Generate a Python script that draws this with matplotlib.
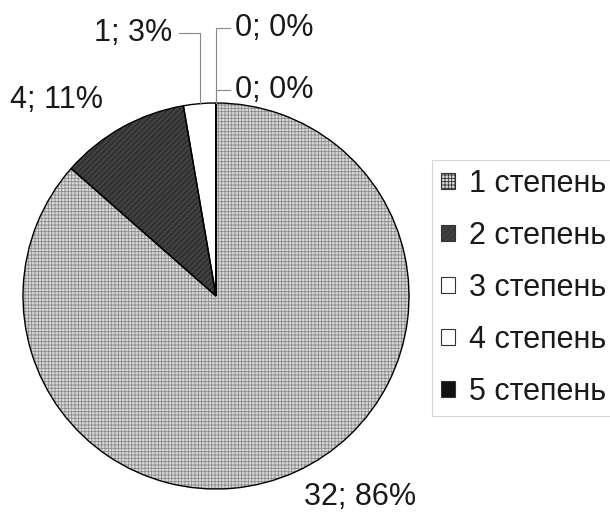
import numpy as np
import matplotlib.pyplot as plt
from matplotlib.patches import Patch

plt.rcParams['font.family'] = ['Liberation Sans', 'DejaVu Sans']
plt.rcParams['hatch.linewidth'] = 0.6

# data
categories = ["1 степень", "2 степень", "3 степень", "4 степень", "5 степень"]
counts = [32, 4, 1, 0, 0]
face_colors = ["#dadada", "#404040", "#ffffff", "#ffffff", "#111111"]
hatch_colors = ["#8a8a8a", "#222222", "#ffffff", "#ffffff", "#111111"]
hatches = ["+++++", "//////", "", "", ""]

total = sum(counts)
pcts = [round(c / total * 100) for c in counts]
labels = [f"{c}; {p}%" for c, p in zip(counts, pcts)]

fig = plt.figure(figsize=(6.1, 5.13), dpi=100)
ax = fig.add_axes([0, 0, 1, 1])

center = (216, 217)
r = 193

# filled layer (hatch colour comes from the edge colour)
fill_w, _ = ax.pie(counts, colors=face_colors, startangle=90, counterclock=False,
                   center=center, radius=r, wedgeprops=dict(linewidth=0))
for w, h, hc in zip(fill_w, hatches, hatch_colors):
    w.set_hatch(h)
    w.set_edgecolor(hc)

# outline layer
ax.pie(counts, startangle=90, counterclock=False, center=center, radius=r,
       wedgeprops=dict(fill=False, edgecolor="black", linewidth=1.0))

ax.set_xlim(0, 610)
ax.set_ylim(0, 513)
ax.set_aspect('equal')
ax.axis('off')

fs = 22
txt = "#1a1a1a"
# big slices: plain text
ax.text(360, 16, labels[0], fontsize=fs, ha='center', va='center', color=txt)
ax.text(56, 413, labels[1], fontsize=fs, ha='center', va='center', color=txt)

# small slices: label with leader line
small = [(2, 133, 480, 'right'), (3, 274, 485, 'left'), (4, 274, 423, 'left')]
for i, lx, ly, side in small:
    w = fill_w[i]
    mid = np.deg2rad((w.theta1 + w.theta2) / 2)
    x0 = center[0] + r * np.cos(mid)
    y0 = center[1] + r * np.sin(mid)
    if side == 'right':
        xe = lx + 46
    else:
        xe = lx - 44
    ax.plot([x0, x0, xe], [y0, ly, ly], color="#888888", lw=0.8)
    ax.text(lx, ly, labels[i], fontsize=fs, ha='center', va='center', color=txt)

handles = [Patch(facecolor=fc, edgecolor="#333333", hatch=h, linewidth=0.8)
           for fc, h in zip(face_colors, hatches)]
leg = fig.legend(handles, categories, loc='center left',
                 bbox_to_anchor=(432 / 610, 1 - 288 / 513), borderaxespad=0,
                 fontsize=fs, frameon=True, fancybox=False, edgecolor="#cccccc",
                 handlelength=0.45, handleheight=0.45, handletextpad=0.45,
                 labelspacing=0.72, borderpad=0.3)
leg.get_frame().set_linewidth(0.8)
for t in leg.get_texts():
    t.set_color(txt)

fig.savefig("out.png", dpi=100)
